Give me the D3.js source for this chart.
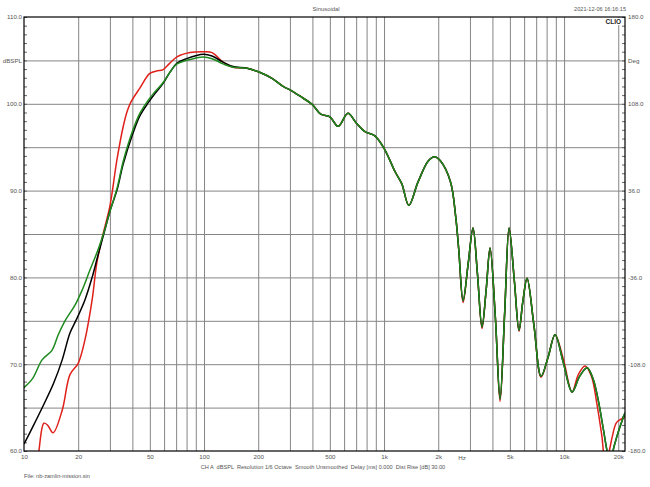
<!DOCTYPE html>
<html><head><meta charset="utf-8">
<script src="https://cdn.jsdelivr.net/npm/d3@7"></script>
<style>
body{margin:0;background:#fff}
text{font-family:"Liberation Sans",Arial,sans-serif}
</style>
</head><body>
<svg id="c" width="650" height="487"></svg>
<script>
// ---------- data ----------
const freqLabelValues = [10,20,50,100,200,500,1000,2000,5000,10000,20000];
const freqLabelText   = ["10","20","50","100","200","500","1k","2k","5k","10k","20k"];
const gridFreqs = [20,30,40,50,60,70,80,90,100,200,300,400,500,600,700,800,900,
                   1000,2000,3000,4000,5000,6000,7000,8000,9000,10000,20000];
const dbLabelValues = [60,70,80,90,100,105,110];
const dbLabelText   = ["60.0","70.0","80.0","90.0","100.0","dBSPL","110.0"];
const degLabelText  = ["-180.0","-108.0","-36.0","36.0","108.0","Deg","180.0"];
const dbGrid = [65,70,75,80,85,90,95,100,105];

const redLow = [[10,50],[11.5,56],[12.1,60],[12.9,63.2],[13.5,63.0],[14.5,62.1],[16.3,64.7],[18,68.8],
  [20,70.1],[21.8,72.8],[23.9,77.4],[25.4,81.7],[27.5,85.0],[30,88.2],[32.8,93.5],[35.5,97.3],
  [37.5,99.2],[39.5,100.3],[44,101.8],[50,103.5],[55,103.8],[59,103.9],[64,104.6],[70.8,105.4],[83.6,105.9],
  [98.9,106.0],[110.8,105.9],[127.6,104.8],[145,104.2],[173.6,104.1]];
const blackLow = [[10,60.8],[11.2,62.8],[12.7,65.1],[14.6,67.8],[16.3,70.5],[18,73.6],[19.5,75.1],
  [21.8,77.4],[23.9,80.0],[25.5,82.2],[28,85.3],[30,87.6],[33,90.2],[35.5,93.0],[40.3,96.6],
  [44,98.6],[48.9,100.1],[53,101.1],[59,102.3],[65,103.7],[70.8,104.7],[80,105.2],[99,105.7],
  [110.8,105.5],[127.6,104.8],[145,104.3],[173.6,104.1]];
const greenLow = [[10,67.3],[11.2,68.4],[12.6,70.5],[14.3,71.6],[15.5,73.4],[16.9,75.0],[19.2,76.8],
  [21,78.5],[23.3,80.9],[25.8,83.2],[28,85.4],[30,87.6],[33,90.4],[35.5,93.3],[40.3,97.0],
  [44,98.9],[48.9,100.4],[53,101.3],[59,102.4],[65,103.7],[70.8,104.6],[80,105.0],[99,105.4],
  [110.8,105.2],[127.6,104.6],[145,104.2],[173.6,104.1]];
const sharedMid = [[205,103.6],[240,102.9],[275,102.0],[300,101.6],[340,100.9],[400,99.9],[445,98.8],
  [500,98.5],[556,97.4],[630,98.9],[700,97.8],[784,96.8],[890,96.3],[1010,94.7],[1150,92.2],
  [1254,90.8],[1373,88.3],[1545,91.0],[1760,93.4],[1905,93.9],[2060,93.4],[2340,91.0],[2500,87.0],
  [2600,83.2]];
const redHigh = [[2748,77.1],[2930,81.5],[3120,85.7],[3300,80.5],[3500,74.1],[3690,78.5],[3880,83.4],
  [4150,75.5],[4410,65.7],[4680,76.0],[4950,85.7],[5300,79.5],[5620,73.8],[5900,77.2],[6230,79.9],
  [6800,74.5],[7450,68.5],[8150,70.8],[8910,73.4],[9900,70.6],[11080,66.8],[12000,68.8],[13080,69.8],
  [14200,68.6],[15200,65.5],[16200,61.8],[16900,59.0],[17600,59.6],[18500,61.6],[19600,63.3],[21800,63.9]];
const greenHigh = [[2748,77.3],[2930,81.5],[3120,85.7],[3300,80.5],[3500,74.3],[3690,78.5],[3880,83.4],
  [4150,75.5],[4410,66.0],[4680,76.0],[4950,85.7],[5300,79.5],[5620,73.9],[5900,77.2],[6230,79.9],
  [6800,74.5],[7450,68.6],[8150,70.8],[8910,73.4],[9900,70.2],[11080,66.8],[12200,68.6],[13420,69.6],
  [14500,68.3],[15500,65.8],[16500,62.6],[17500,59.6],[18000,58.8],[19000,60.6],[20000,62.2],[21800,64.4]];
const blackHigh = greenHigh;

// ---------- layout ----------
const L = 24, R = 625, T = 17, B = 451;
const svg = d3.select("#c");
const x = d3.scaleLog().domain([10, 21800]).range([L, R]);
const y = d3.scaleLinear().domain([60, 110]).range([B, T]);
const labelColor = "#555";
const fs = 6.2;

// grid
const gridColor = "#858585";
svg.append("g").attr("transform", `translate(0,${B})`)
  .call(d3.axisBottom(x).tickValues(gridFreqs).tickSize(-(B - T)).tickFormat(""))
  .call(g => g.select(".domain").remove())
  .call(g => g.selectAll("line").attr("stroke", gridColor).attr("stroke-width", 1));
svg.append("g").attr("transform", `translate(${L},0)`)
  .call(d3.axisLeft(y).tickValues(dbGrid).tickSize(-(R - L)).tickFormat(""))
  .call(g => g.select(".domain").remove())
  .call(g => g.selectAll("line").attr("stroke", gridColor).attr("stroke-width", 1));

// minor ticks inside frame
const minor = d3.range(60, 111, 1);
svg.append("g").attr("transform", `translate(${L},0)`)
  .call(d3.axisRight(y).tickValues(minor).tickSize(3).tickFormat(""))
  .call(g => g.select(".domain").remove())
  .call(g => g.selectAll("line").attr("stroke", "#666"));
svg.append("g").attr("transform", `translate(${R},0)`)
  .call(d3.axisLeft(y).tickValues(minor).tickSize(3).tickFormat(""))
  .call(g => g.select(".domain").remove())
  .call(g => g.selectAll("line").attr("stroke", "#666"));

// curves
const clip = svg.append("clipPath").attr("id", "clip");
clip.append("rect").attr("x", L).attr("y", T).attr("width", R - L).attr("height", B - T);
const line = d3.line().x(d => x(d[0])).y(d => y(d[1])).curve(d3.curveCatmullRom.alpha(0.5));
const series = [
  {pts: redLow.concat(sharedMid, redHigh), color: "#e0201a"},
  {pts: blackLow.concat(sharedMid, blackHigh), color: "#000000"},
  {pts: greenLow.concat(sharedMid, greenHigh), color: "#1f8a1f"}
];
svg.append("g").attr("clip-path", "url(#clip)").selectAll("path").data(series).join("path")
  .attr("d", d => line(d.pts)).attr("fill", "none")
  .attr("stroke", d => d.color).attr("stroke-width", 1.5).attr("stroke-linejoin", "round");

// frame
svg.append("rect").attr("x", L).attr("y", T).attr("width", R - L).attr("height", B - T)
  .attr("fill", "none").attr("stroke", "#000").attr("stroke-width", 1.2);

// left labels
svg.append("g").attr("transform", `translate(${L - 1},0)`)
  .call(d3.axisLeft(y).tickValues(dbLabelValues).tickSize(0).tickPadding(1)
    .tickFormat((d, i) => dbLabelText[i]))
  .call(g => g.select(".domain").remove())
  .call(g => g.selectAll("text").attr("font-size", fs).attr("fill", labelColor)
    .attr("font-family", "Liberation Sans, Arial, sans-serif"));
// right labels
svg.append("g").attr("transform", `translate(${R + 1},0)`)
  .call(d3.axisRight(y).tickValues(dbLabelValues).tickSize(0).tickPadding(2)
    .tickFormat((d, i) => degLabelText[i]))
  .call(g => g.select(".domain").remove())
  .call(g => g.selectAll("text").attr("font-size", fs).attr("fill", labelColor)
    .attr("font-family", "Liberation Sans, Arial, sans-serif"));
// bottom labels
svg.append("g").attr("transform", `translate(0,${B})`)
  .call(d3.axisBottom(x).tickValues(freqLabelValues).tickSize(0).tickPadding(4)
    .tickFormat((d, i) => freqLabelText[i]))
  .call(g => g.select(".domain").remove())
  .call(g => g.selectAll("text").attr("font-size", fs).attr("fill", labelColor)
    .attr("font-family", "Liberation Sans, Arial, sans-serif"));
svg.append("text").attr("x", 462).attr("y", 460).attr("text-anchor", "middle")
  .attr("font-size", fs).attr("fill", labelColor).text("Hz");

// titles
svg.append("text").attr("x", 326).attr("y", 11).attr("text-anchor", "middle")
  .attr("font-size", 5.9).attr("fill", labelColor).text("Sinusoidal");
svg.append("text").attr("x", 626).attr("y", 11).attr("text-anchor", "end")
  .attr("font-size", 5.6).attr("fill", labelColor).text("2021-12-06 16:16:15");
svg.append("rect").attr("x", 604).attr("y", 18).attr("width", 19).attr("height", 7).attr("fill", "#fff");
svg.append("text").attr("x", 621).attr("y", 24).attr("text-anchor", "end")
  .attr("font-size", 6.5).attr("font-weight", "bold").attr("fill", "#222").text("CLIO");

// footer
svg.append("text").attr("x", 323).attr("y", 469).attr("text-anchor", "middle")
  .attr("font-size", 5.6).attr("fill", labelColor).attr("xml:space", "preserve")
  .text("CH A  dBSPL  Resolution 1/6 Octave  Smooth Unsmoothed  Delay [ms] 0.000  Dist Rise [dB] 30.00");
svg.append("text").attr("x", 24).attr("y", 478)
  .attr("font-size", 5.6).attr("fill", labelColor).text("File: nb-zamlin-mission.sin");
</script>
</body></html>
